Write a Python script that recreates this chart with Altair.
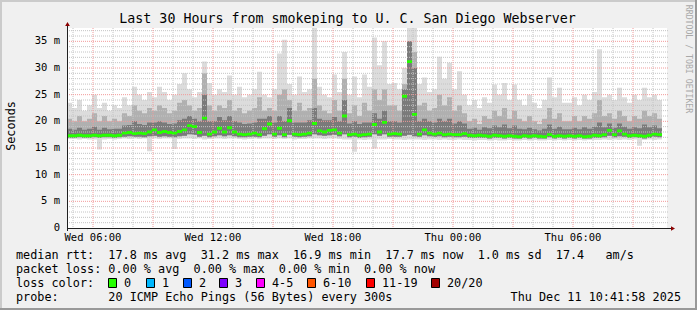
import altair as alt
import pandas as pd

# ---------------- data ----------------
START_HOUR = 4.7          # Wed 04:42, hours counted from Wed 00:00
STEP_H = 0.25             # one sample block = 15 minutes

median = [17.3, 17.3, 17.4, 17.3, 17.3, 17.4, 17.3, 17.4, 17.4, 17.3,
          17.4, 17.8, 17.9, 17.7, 17.8, 17.7, 18.0, 18.4, 17.9, 18.1,
          17.9, 17.8, 18.1, 18.4, 19.2, 19.0, 17.9, 20.6, 17.6, 18.0,
          18.7, 18.0, 18.8, 18.0, 17.6, 17.5, 17.6, 17.8, 17.5, 18.6,
          19.5, 17.6, 18.7, 17.5, 20.1, 17.6, 17.5, 17.6, 17.8, 19.6,
          18.2, 18.0, 18.3, 18.4, 17.8, 21.0, 17.5, 17.6, 17.4, 17.5,
          17.6, 19.4, 18.0, 19.8, 17.6, 17.7, 17.6, 24.7, 31.2, 21.3,
          17.6, 18.4, 17.8, 17.6, 17.8, 17.5, 17.6, 17.5, 17.5, 17.7,
          17.4, 17.3, 17.4, 17.3, 17.2, 17.4, 17.3, 17.2, 17.3, 17.2,
          17.1, 17.3, 17.2, 17.3, 17.2, 17.1, 17.5, 17.2, 17.3, 17.2,
          17.3, 17.2, 17.3, 17.1, 17.2, 17.4, 17.3, 17.5, 18.3, 17.5,
          18.2, 17.6, 17.3, 17.4, 17.3, 17.2, 17.4, 17.6, 17.5, 17.5]

smoke_min = [16.7, 16.7, 16.6, 16.7, 16.6, 16.6, 14.7, 16.6, 16.7, 16.6,
             16.7, 16.8, 16.7, 16.8, 16.7, 16.8, 14.4, 16.8, 16.7, 16.8,
             16.8, 14.8, 16.7, 16.8, 16.8, 16.7, 16.8, 16.6, 16.7, 16.8,
             16.8, 16.7, 16.8, 16.8, 16.7, 16.6, 16.7, 16.8, 16.7, 16.8,
             16.8, 16.7, 16.8, 16.7, 16.8, 16.6, 16.7, 16.7, 16.8, 16.8,
             16.8, 16.7, 16.8, 16.8, 16.7, 16.6, 16.6, 14.3, 16.6, 16.5,
             16.6, 14.9, 16.6, 16.6, 16.7, 16.6, 16.6, 16.5, 16.6, 16.6,
             16.6, 16.5, 16.6, 16.6, 16.5, 16.6, 16.5, 16.5, 16.6, 16.5,
             16.5, 16.4, 16.5, 16.5, 16.4, 16.5, 16.4, 16.4, 16.5, 16.4,
             16.4, 16.5, 16.4, 16.5, 16.4, 16.4, 16.5, 16.4, 16.5, 16.4,
             16.5, 16.4, 16.5, 16.4, 16.5, 16.5, 16.5, 16.6, 16.5, 16.6,
             16.5, 16.6, 16.5, 16.6, 15.4, 16.5, 16.6, 16.5, 16.6, 16.5]

smoke_low = [16.9, 16.9, 17.0, 16.9, 16.9, 17.0, 16.9, 17.0, 17.0, 16.9,
             17.0, 17.1, 17.2, 17.1, 17.1, 17.0, 17.2, 17.3, 17.1, 17.2,
             17.1, 17.0, 17.2, 17.3, 17.6, 17.5, 17.1, 17.3, 17.0, 17.2,
             17.4, 17.2, 17.4, 17.2, 17.0, 17.0, 17.1, 17.1, 17.0, 17.3,
             17.6, 17.1, 17.4, 17.0, 17.5, 17.1, 17.0, 17.1, 17.2, 17.6,
             17.4, 17.3, 17.4, 17.5, 17.2, 17.6, 17.0, 17.1, 16.9, 17.0,
             17.1, 17.6, 17.3, 17.6, 17.1, 17.1, 17.1, 17.3, 17.5, 17.2,
             17.1, 17.4, 17.2, 17.1, 17.2, 17.0, 17.1, 17.0, 17.0, 17.1,
             16.9, 16.9, 16.9, 16.9, 16.8, 16.9, 16.9, 16.8, 16.9, 16.8,
             16.8, 16.9, 16.8, 16.9, 16.8, 16.8, 17.0, 16.8, 16.9, 16.8,
             16.9, 16.8, 16.9, 16.8, 16.8, 16.9, 16.9, 17.0, 17.3, 17.0,
             17.2, 17.1, 16.9, 17.0, 16.9, 16.8, 16.9, 17.1, 17.0, 17.0]

smoke_p75 = [18.6, 18.4, 18.8, 18.4, 18.6, 19.0, 18.4, 18.8, 18.5, 18.6,
             18.6, 19.2, 19.3, 20.0, 19.5, 19.3, 19.8, 19.8, 20.0, 19.8,
             19.5, 19.6, 20.2, 20.5, 21.0, 20.5, 20.0, 25.0, 20.0, 20.0,
             20.8, 20.2, 21.0, 20.0, 19.8, 19.5, 19.6, 19.8, 20.5, 20.5,
             21.0, 19.8, 21.0, 20.0, 22.5, 19.8, 19.8, 19.8, 20.2, 22.5,
             20.5, 20.2, 20.2, 20.8, 20.0, 24.0, 19.6, 20.0, 19.5, 19.8,
             19.8, 21.5, 20.5, 22.0, 20.0, 20.0, 19.8, 26.0, 35.0, 30.0,
             20.0, 20.5, 20.0, 19.8, 20.5, 20.0, 20.5, 19.6, 20.0, 19.6,
             18.6, 18.8, 18.4, 18.9, 18.7, 19.2, 18.9, 19.4, 18.7, 19.2,
             18.6, 18.5, 18.8, 18.5, 18.3, 18.6, 19.4, 18.6, 19.0, 18.5,
             18.5, 18.8, 18.5, 18.9, 18.6, 19.0, 19.8, 18.9, 19.6, 18.8,
             19.6, 19.0, 18.6, 18.9, 18.7, 19.4, 18.9, 19.2, 18.7, 19.0]

smoke_p90 = [20.5, 20.0, 21.0, 20.0, 20.5, 21.5, 20.0, 21.0, 20.0, 20.5,
             20.0, 21.5, 21.0, 23.0, 22.0, 21.5, 22.5, 22.0, 23.0, 22.5,
             21.5, 22.0, 23.5, 24.0, 23.0, 22.0, 22.5, 29.0, 23.0, 22.0,
             23.0, 22.5, 24.0, 22.0, 22.5, 21.5, 22.0, 22.5, 24.5, 22.0,
             22.5, 22.0, 25.0, 26.0, 24.0, 22.0, 23.5, 22.0, 22.5, 28.0,
             23.0, 22.0, 21.5, 24.0, 22.0, 28.0, 21.5, 23.0, 21.0, 23.5,
             22.0, 26.0, 24.0, 26.0, 23.0, 23.0, 22.0, 27.0, 35.0, 33.0,
             23.0, 23.5, 22.0, 22.5, 25.0, 23.0, 24.5, 22.0, 23.0, 21.5,
             20.0, 20.5, 19.5, 21.0, 20.5, 22.0, 21.0, 22.5, 20.5, 22.0,
             20.5, 20.0, 21.0, 20.0, 19.5, 20.5, 22.5, 20.5, 21.5, 20.0,
             20.0, 21.0, 20.0, 21.0, 20.5, 21.5, 24.0, 21.0, 21.5, 20.5,
             22.0, 21.0, 20.0, 21.0, 20.5, 22.0, 21.0, 21.5, 20.5, 21.0]

smoke_max = [23.5, 22.5, 24.0, 22.0, 23.0, 25.0, 22.5, 23.5, 22.0, 23.0,
             22.5, 24.5, 23.0, 26.5, 25.0, 24.0, 25.5, 24.5, 26.5, 25.5,
             24.0, 25.0, 27.0, 29.0, 26.0, 24.5, 25.5, 31.2, 27.2, 25.0,
             26.0, 25.5, 28.6, 25.0, 26.5, 24.5, 25.0, 26.0, 29.3, 25.0,
             24.5, 26.0, 32.7, 35.3, 27.0, 25.0, 28.4, 25.5, 26.0, 37.5,
             26.5, 25.0, 24.5, 28.8, 25.5, 33.0, 25.0, 28.4, 24.5, 28.8,
             26.5, 35.7, 30.5, 35.0, 27.0, 27.2, 26.0, 30.0, 37.5, 37.5,
             27.0, 28.2, 25.5, 26.0, 32.1, 28.0, 31.0, 26.0, 29.4, 25.0,
             23.0, 24.0, 22.5, 24.5, 23.5, 26.9, 25.0, 27.2, 24.0, 26.9,
             24.0, 23.0, 25.0, 23.5, 22.5, 24.0, 28.2, 24.5, 26.3, 23.5,
             23.5, 24.5, 23.0, 25.0, 24.0, 25.5, 33.5, 24.5, 25.0, 24.0,
             26.3, 24.5, 23.5, 25.0, 24.0, 26.3, 24.5, 25.0, 24.0, 24.4]

x_tick_hours = [6, 12, 18, 24, 30]
x_tick_labels = ["Wed 06:00", "Wed 12:00", "Wed 18:00", "Thu 00:00", "Thu 06:00"]
y_tick_values = [0, 5, 10, 15, 20, 25, 30, 35]
y_tick_labels = ["0\u00a0\u00a0", "5 m", "10 m", "15 m", "20 m", "25 m", "30 m", "35 m"]

title_text = "Last 30 Hours from smokeping to U. C. San Diego Webserver"
legend_rows = [
    "median rtt:  17.8 ms avg  31.2 ms max  16.9 ms min  17.7 ms now  1.0 ms sd  17.4   am/s",
    "packet loss: 0.00 % avg  0.00 % max  0.00 % min  0.00 % now",
    "loss color:",
    "probe:       20 ICMP Echo Pings (56 Bytes) every 300s",
]
stamp_text = "Thu Dec 11 10:41:58 2025"
loss_labels = ["0", "1", "2", "3", "4-5", "6-10", "11-19", "20/20"]
loss_colors = ["#26ff00", "#00b8ff", "#0059ff", "#7e00ff", "#ff00ff", "#ff5500", "#ff0000", "#a10000"]

# ---------------- layout ----------------
W, H = 600, 200
LEFT, TOP = 67, 28
MONO = "DejaVu Sans Mono"
loss_box_px = [108, 146, 183, 219, 256, 307, 366, 431]   # absolute x of legend boxes
MED_HALF = 0.27   # half thickness of the median band, in ms (about 3 px total)


def px(x):
    return x - LEFT


def py(y):
    return y - TOP


hours = [START_HOUR + STEP_H * i for i in range(len(median))]
df = pd.DataFrame({"t": hours, "med": median, "lo": smoke_min, "q1": smoke_low,
                   "p75": smoke_p75, "p90": smoke_p90, "mx": smoke_max})

xs = alt.Scale(domain=[4.7, 34.7], nice=False, zero=False)
ys = alt.Scale(domain=[0, 37.5], nice=False, zero=True)
X = alt.X("t:Q", scale=xs, axis=None)

base = alt.Chart(df)
smoke_light = base.mark_area(interpolate="step-after", color="#dcdcdc").encode(
    X, y=alt.Y("lo:Q", scale=ys, axis=None), y2="mx:Q")
smoke_mid = base.mark_area(interpolate="step-after", color="#b0b0b0").encode(
    X, y=alt.Y("q1:Q", scale=ys, axis=None), y2="p90:Q")
smoke_dark = base.mark_area(interpolate="step-after", color="#7a7a7a").encode(
    X, y=alt.Y("q1:Q", scale=ys, axis=None), y2="p75:Q")
med_band = base.transform_calculate(
    m_lo=f"datum.med - {MED_HALF}", m_hi=f"datum.med + {MED_HALF}"
).mark_area(interpolate="step-after", color="#26ff00").encode(
    X, y=alt.Y("m_lo:Q", scale=ys, axis=None), y2="m_hi:Q")

# grid
hour_lines = list(range(5, 35))
major_hours = list(range(6, 35, 3))
minor_hours = [h for h in hour_lines if h not in major_hours]
ms_lines = list(range(1, 38))
major_ms = list(range(5, 36, 5))
minor_ms = [v for v in ms_lines if v not in major_ms]

grid_col_minor = "#c4c4c4"
grid_col_major = "#f29a9a"
gv_minor = alt.Chart(pd.DataFrame({"h": minor_hours})).mark_rule(
    color=grid_col_minor, strokeDash=[1, 1], strokeWidth=1).encode(
    x=alt.X("h:Q", scale=xs, axis=None), y=alt.value(0), y2=alt.value(H))
gv_major = alt.Chart(pd.DataFrame({"h": major_hours})).mark_rule(
    color=grid_col_major, strokeDash=[1, 1], strokeWidth=1).encode(
    x=alt.X("h:Q", scale=xs, axis=None), y=alt.value(0), y2=alt.value(H))
gh_minor = alt.Chart(pd.DataFrame({"v": minor_ms})).mark_rule(
    color=grid_col_minor, strokeDash=[1, 1], strokeWidth=1).encode(
    y=alt.Y("v:Q", scale=ys, axis=None), x=alt.value(0), x2=alt.value(W + 1))
gh_major = alt.Chart(pd.DataFrame({"v": major_ms})).mark_rule(
    color=grid_col_major, strokeDash=[1, 1], strokeWidth=1).encode(
    y=alt.Y("v:Q", scale=ys, axis=None), x=alt.value(0), x2=alt.value(W + 1))

# axes lines + arrows
one = pd.DataFrame({"a": [0]})
x_axis = alt.Chart(one).mark_rule(color="#202020", strokeWidth=1).encode(
    x=alt.value(0), x2=alt.value(W + 6), y=alt.value(H + 0.5))
y_axis = alt.Chart(one).mark_rule(color="#202020", strokeWidth=1).encode(
    x=alt.value(0.5), y=alt.value(H + 3), y2=alt.value(-3))
arrow_x = alt.Chart(one).mark_point(shape="triangle-right", filled=True, color="#8b0000",
                                    size=22, opacity=1).encode(
    x=alt.value(W + 6), y=alt.value(H + 0.5))
arrow_y = alt.Chart(one).mark_point(shape="triangle-up", filled=True, color="#8b0000",
                                    size=22, opacity=1).encode(
    x=alt.value(0.5), y=alt.value(-4))

# tick labels
x_labels = alt.Chart(pd.DataFrame({"h": x_tick_hours, "lab": x_tick_labels})).mark_text(
    font=MONO, fontSize=10.5, color="#000000", align="center", baseline="middle").encode(
    x=alt.X("h:Q", scale=xs, axis=None), y=alt.value(py(238)), text="lab:N")
y_labels = alt.Chart(pd.DataFrame({"v": y_tick_values, "lab": y_tick_labels})).mark_text(
    font=MONO, fontSize=10.5, color="#000000", align="right", baseline="middle").encode(
    y=alt.Y("v:Q", scale=ys, axis=None), x=alt.value(-7), text="lab:N")


def text_layer(s, x, y, size=11.8, align="left", angle=0, color="#000000", baseline="middle"):
    s = s.replace(" ", "\u00a0")
    return alt.Chart(pd.DataFrame({"s": [s]})).mark_text(
        font=MONO, fontSize=size, color=color, align=align, baseline=baseline,
        angle=angle).encode(x=alt.value(px(x)), y=alt.value(py(y)), text="s:N")


layers = [smoke_light, smoke_mid, smoke_dark,
          gv_minor, gh_minor, gv_major, gh_major,
          med_band, x_axis, y_axis, arrow_x, arrow_y, x_labels, y_labels]

layers.append(text_layer(title_text, 347.5, 19, size=13.3, align="center"))
layers.append(text_layer("Seconds", 11, 126, size=11.8, align="center", angle=270))
layers.append(text_layer("RRDTOOL / TOBI OETIKER", 688, 59, size=8.2, align="center",
                         angle=90, color="#a8a8a8"))

row_y = [254.5, 268.5, 282.5, 296.5]
for s, yy in zip(legend_rows, row_y):
    layers.append(text_layer(s, 16, yy))
layers.append(text_layer(stamp_text, 681, row_y[3], align="right"))

for bx, lab, col in zip(loss_box_px, loss_labels, loss_colors):
    layers.append(alt.Chart(one).mark_rect(color=col, stroke="#000000", strokeWidth=1).encode(
        x=alt.value(px(bx) + 0.5), x2=alt.value(px(bx) + 8.5),
        y=alt.value(py(278) + 0.5), y2=alt.value(py(287) + 0.5)))
    layers.append(text_layer(lab, bx + 16, row_y[2]))

# frame
fw = 697
fh = 310
layers.append(alt.Chart(one).mark_rule(color="#cbcbcb", strokeWidth=2).encode(
    x=alt.value(px(0)), x2=alt.value(px(fw)), y=alt.value(py(1))))
layers.append(alt.Chart(one).mark_rule(color="#cbcbcb", strokeWidth=2).encode(
    x=alt.value(px(1)), y=alt.value(py(0)), y2=alt.value(py(fh))))
layers.append(alt.Chart(one).mark_rule(color="#999999", strokeWidth=2).encode(
    x=alt.value(px(fw - 1)), y=alt.value(py(0)), y2=alt.value(py(fh))))
layers.append(alt.Chart(one).mark_rule(color="#999999", strokeWidth=2).encode(
    x=alt.value(px(0)), x2=alt.value(px(fw)), y=alt.value(py(fh - 1))))

chart = alt.layer(*layers).properties(
    width=W, height=H,
    background="#f0f0f0",
    padding={"left": LEFT, "top": TOP, "right": 697 - LEFT - W, "bottom": 310 - TOP - H},
    autosize=alt.AutoSizeParams(type="none"),
).configure_view(stroke=None, fill="#ffffff")

chart.save("out.html", embed_options={"renderer": "svg", "actions": False})
